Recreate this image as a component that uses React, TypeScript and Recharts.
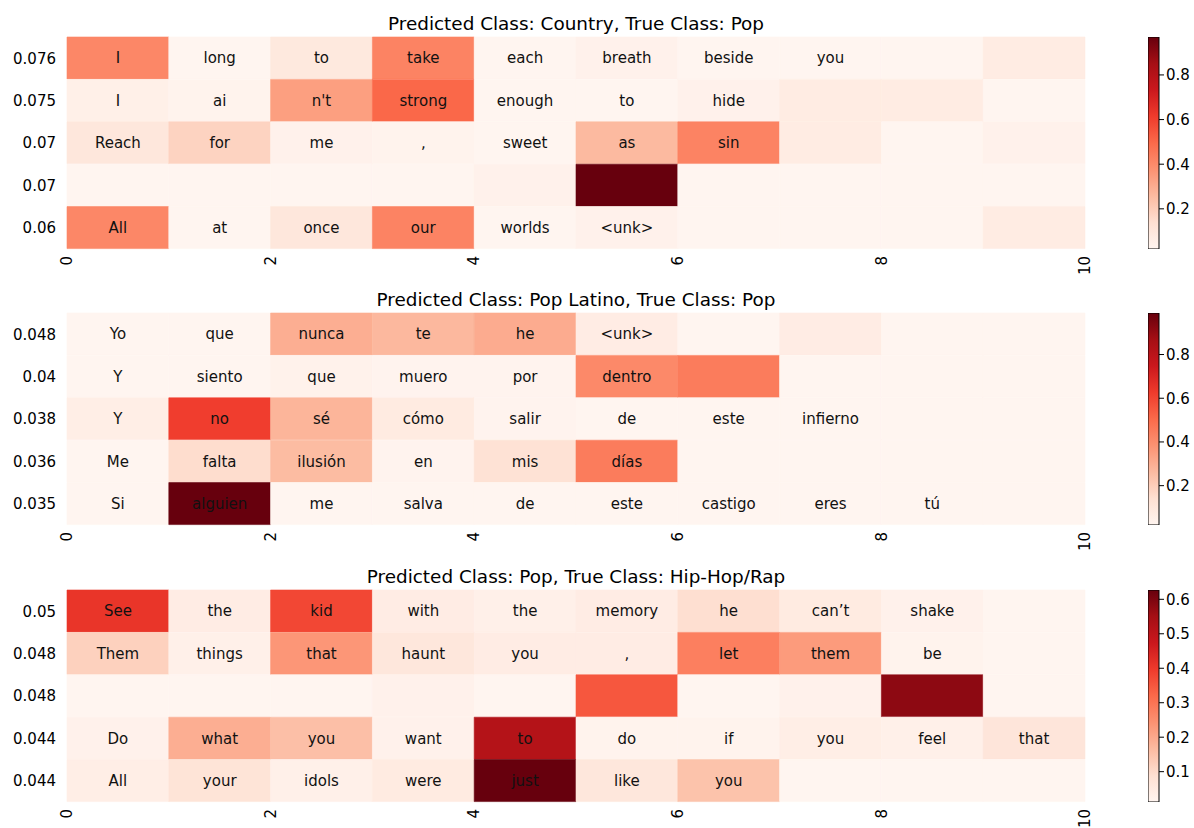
import { BarChart, Bar, XAxis, YAxis, Cell, LabelList } from 'recharts';

// --- data ---
const rowLabels1 = ['0.076', '0.075', '0.07', '0.07', '0.06'];
const words1 = [
  ['I', 'long', 'to', 'take', 'each', 'breath', 'beside', 'you', '', ''],
  ['I', 'ai', "n't", 'strong', 'enough', 'to', 'hide', '', '', ''],
  ['Reach', 'for', 'me', ',', 'sweet', 'as', 'sin', '', '', ''],
  ['', '', '', '', '', '', '', '', '', ''],
  ['All', 'at', 'once', 'our', 'worlds', '<unk>', '', '', '', ''],
];
const values1 = [
  [0.41, 0.02, 0.09, 0.42, 0.02, 0.04, 0.02, 0.02, 0.02, 0.07],
  [0.05, 0.03, 0.34, 0.5, 0.02, 0.02, 0.04, 0.07, 0.07, 0.02],
  [0.1, 0.18, 0.04, 0.03, 0.02, 0.26, 0.42, 0.07, 0.02, 0.04],
  [0.02, 0.02, 0.02, 0.02, 0.04, 0.97, 0.02, 0.02, 0.02, 0.02],
  [0.41, 0.02, 0.1, 0.42, 0.02, 0.04, 0.02, 0.02, 0.02, 0.07],
];

const rowLabels2 = ['0.048', '0.04', '0.038', '0.036', '0.035'];
const words2 = [
  ['Yo', 'que', 'nunca', 'te', 'he', '<unk>', '', '', '', ''],
  ['Y', 'siento', 'que', 'muero', 'por', 'dentro', '', '', '', ''],
  ['Y', 'no', 'sé', 'cómo', 'salir', 'de', 'este', 'infierno', '', ''],
  ['Me', 'falta', 'ilusión', 'en', 'mis', 'días', '', '', '', ''],
  ['Si', 'alguien', 'me', 'salva', 'de', 'este', 'castigo', 'eres', 'tú', ''],
];
const values2 = [
  [0.02, 0.02, 0.3, 0.27, 0.31, 0.07, 0.02, 0.07, 0.02, 0.02],
  [0.02, 0.02, 0.04, 0.03, 0.03, 0.41, 0.45, 0.02, 0.02, 0.02],
  [0.06, 0.62, 0.28, 0.08, 0.03, 0.02, 0.02, 0.02, 0.02, 0.02],
  [0.02, 0.15, 0.26, 0.03, 0.13, 0.45, 0.02, 0.02, 0.02, 0.02],
  [0.02, 0.99, 0.02, 0.02, 0.02, 0.02, 0.02, 0.02, 0.02, 0.02],
];

const rowLabels3 = ['0.05', '0.048', '0.048', '0.044', '0.044'];
const words3 = [
  ['See', 'the', 'kid', 'with', 'the', 'memory', 'he', 'can’t', 'shake', ''],
  ['Them', 'things', 'that', 'haunt', 'you', ',', 'let', 'them', 'be', ''],
  ['', '', '', '', '', '', '', '', '', ''],
  ['Do', 'what', 'you', 'want', 'to', 'do', 'if', 'you', 'feel', 'that'],
  ['All', 'your', 'idols', 'were', 'just', 'like', 'you', '', '', ''],
];
const values3 = [
  [0.41, 0.044, 0.376, 0.044, 0.03, 0.044, 0.09, 0.05, 0.025, 0.012],
  [0.12, 0.03, 0.235, 0.063, 0.044, 0.044, 0.28, 0.226, 0.019, 0.012],
  [0.012, 0.012, 0.012, 0.025, 0.012, 0.35, 0.012, 0.025, 0.58, 0.012],
  [0.025, 0.19, 0.157, 0.025, 0.52, 0.019, 0.019, 0.038, 0.031, 0.069],
  [0.038, 0.075, 0.031, 0.05, 0.627, 0.063, 0.15, 0.012, 0.012, 0.012],
];

const titles = [
  'Predicted Class: Country, True Class: Pop',
  'Predicted Class: Pop Latino, True Class: Pop',
  'Predicted Class: Pop, True Class: Hip-Hop/Rap',
];
const xTicks = [0, 2, 4, 6, 8, 10];
const cbTicks1 = [0.2, 0.4, 0.6, 0.8];
const cbTicks2 = [0.2, 0.4, 0.6, 0.8];
const cbTicks3 = [0.1, 0.2, 0.3, 0.4, 0.5, 0.6];

// matplotlib "Reds"
const REDS = ['#fff5f0', '#fee0d2', '#fcbba1', '#fc9272', '#fb6a4a', '#ef3b2c', '#cb181d', '#a50f15', '#67000d'];

function hex(c: string) {
  return [1, 3, 5].map(i => parseInt(c.slice(i, i + 2), 16));
}
function reds(t: number) {
  const p = Math.max(0, Math.min(1, t)) * (REDS.length - 1);
  const i = Math.min(REDS.length - 2, Math.floor(p));
  const f = p - i;
  const a = hex(REDS[i]);
  const b = hex(REDS[i + 1]);
  const c = a.map((v, k) => Math.round(v + (b[k] - v) * f));
  return `rgb(${c[0]},${c[1]},${c[2]})`;
}

const FONT = '"DejaVu Sans", sans-serif';
const FS = 15;
const COLS = Array.from({ length: 10 }, (_, j) => j);
const PLOT_TOP = 37;
const PLOT_H = 212;
const X_AX_H = 27;
const CHART_H = PLOT_TOP + PLOT_H + X_AX_H;

const RotTick = (props: any) => {
  const { x, y, payload } = props;
  return (
    <g transform={`translate(${x},${y})`}>
      <text transform="rotate(-90)" textAnchor="end" dy="0.35em" fontSize={FS} fill="#000">
        {payload.value}
      </text>
    </g>
  );
};

function Heatmap({ words, values, labels, top, title, ticks, id }: {
  words: string[][]; values: number[][]; labels: string[]; top: number; title: string; ticks: number[]; id: string;
}) {
  const flat = values.flat();
  const vmin = Math.min(...flat);
  const vmax = Math.max(...flat);
  const rows = words.map((w, i) => {
    const r: any = { row: i };
    COLS.forEach(j => { r[`c${j}`] = 1; r[`w${j}`] = w[j]; });
    return r;
  });
  const color = (v: number) => reds((v - vmin) / (vmax - vmin));

  return (
    <>
      <div style={{ position: 'absolute', left: 0, top }}>
        <BarChart
          width={1120} height={CHART_H} data={rows} layout="vertical"
          margin={{ top: PLOT_TOP, right: 35, bottom: 0, left: 0 }}
          barCategoryGap={0} barGap={0}
        >
          <XAxis
            type="number" domain={[0, 10]} ticks={xTicks} interval={0}
            axisLine={false} tickLine={false} tickSize={0} tickMargin={7}
            height={X_AX_H} tick={<RotTick />}
          />
          <YAxis
            type="category" dataKey="row" width={67}
            axisLine={false} tickLine={false} tickSize={0} tickMargin={11}
            tickFormatter={(v: number) => labels[v]}
            tick={{ fill: '#000', fontSize: FS }}
          />
          {COLS.map(j => (
            <Bar key={j} dataKey={`c${j}`} stackId="s" isAnimationActive={false}>
              {values.map((r, i) => (
                <Cell key={i} fill={color(r[j])} stroke={color(r[j])} strokeWidth={0.6} />
              ))}
              <LabelList dataKey={`w${j}`} position="center" fill="#111" fontSize={FS} />
            </Bar>
          ))}
        </BarChart>
      </div>
      <svg width={1194} height={30} style={{ position: 'absolute', left: 0, top: top + PLOT_TOP - 30 }}>
        <text x={576} y={23} textAnchor="middle" fontSize={18.4} fill="#000" fontFamily={FONT}>{title}</text>
      </svg>
      <div style={{ position: 'absolute', left: 1148, top }}>
        <BarChart
          width={56} height={CHART_H} data={[{ name: 'cb', v: vmax }]}
          margin={{ top: PLOT_TOP, right: 0, bottom: X_AX_H, left: 0 }}
          barCategoryGap={0}
        >
          <defs>
            <linearGradient id={id} x1="0" y1="1" x2="0" y2="0">
              {REDS.map((c, k) => (
                <stop key={k} offset={`${(k / (REDS.length - 1)) * 100}%`} stopColor={c} />
              ))}
            </linearGradient>
          </defs>
          <XAxis dataKey="name" hide />
          <YAxis
            orientation="right" type="number" domain={[vmin, vmax]} ticks={ticks} width={45}
            axisLine={false} tickLine={{ stroke: '#000' }} tickSize={5} tickMargin={2}
            tick={{ fill: '#000', fontSize: FS }} allowDataOverflow
          />
          <Bar dataKey="v" fill={`url(#${id})`} stroke="#000" strokeWidth={1} isAnimationActive={false} />
        </BarChart>
      </div>
    </>
  );
}

export default function App() {
  return (
    <div style={{ position: 'absolute', left: 0, top: 0, width: 1194, height: 828, background: '#fff', fontFamily: FONT }}>
      <Heatmap id="g1" words={words1} values={values1} labels={rowLabels1} top={0} title={titles[0]} ticks={cbTicks1} />
      <Heatmap id="g2" words={words2} values={values2} labels={rowLabels2} top={276} title={titles[1]} ticks={cbTicks2} />
      <Heatmap id="g3" words={words3} values={values3} labels={rowLabels3} top={553} title={titles[2]} ticks={cbTicks3} />
    </div>
  );
}
